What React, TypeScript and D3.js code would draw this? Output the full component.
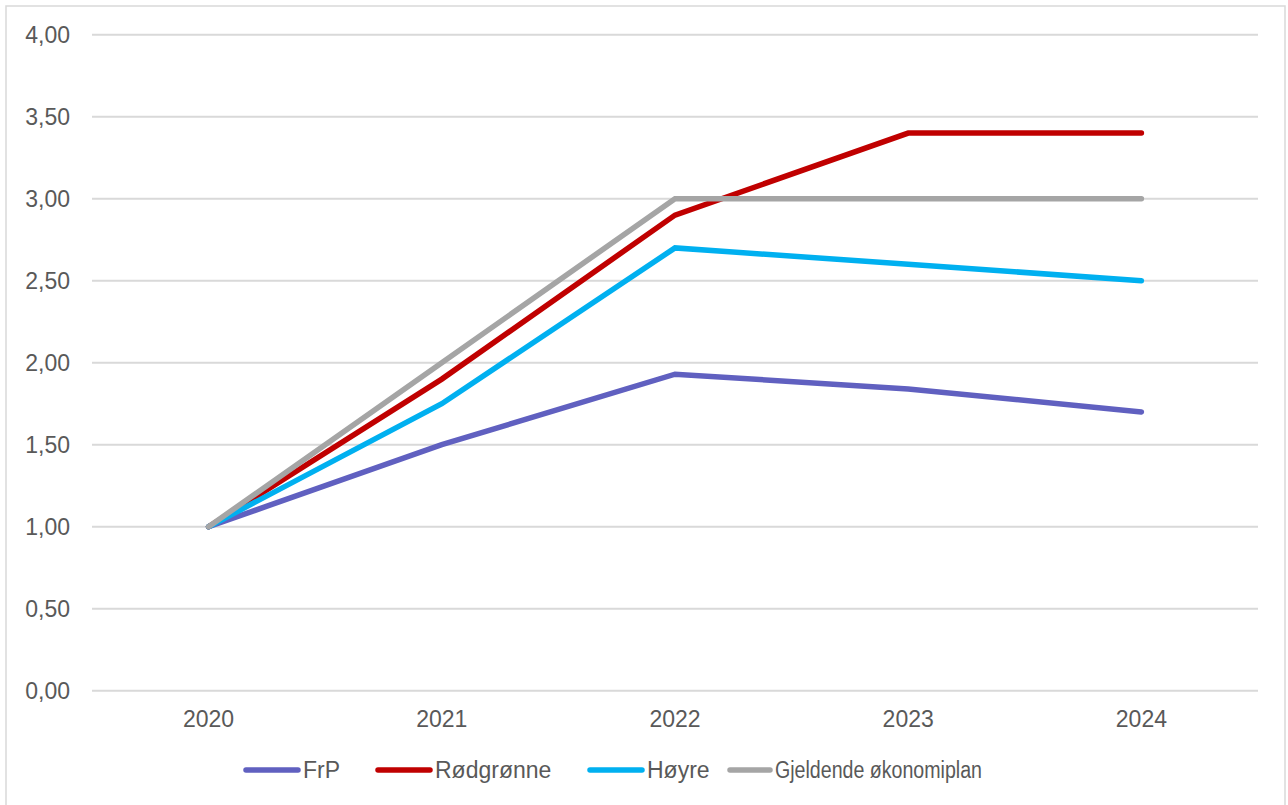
import * as d3 from "d3";

const years = ["2020", "2021", "2022", "2023", "2024"];
const frp = [1.0, 1.5, 1.93, 1.84, 1.7];
const rodgronne = [1.0, 1.9, 2.9, 3.4, 3.4];
const hoyre = [1.0, 1.75, 2.7, 2.6, 2.5];
const gjeldende = [1.0, 2.0, 3.0, 3.0, 3.0];
const yTicks = [0, 0.5, 1, 1.5, 2, 2.5, 3, 3.5, 4];

const series = [
  { name: "FrP", values: frp, color: "#6060C0" },
  { name: "Rødgrønne", values: rodgronne, color: "#C00000" },
  { name: "Høyre", values: hoyre, color: "#00B0F0" },
  { name: "Gjeldende økonomiplan", values: gjeldende, color: "#A5A5A5" },
];

const WIDTH = 1288;
const HEIGHT = 805;
const FONT = "'Liberation Sans', Arial, sans-serif";
const TEXT = "#595959";

export default function App() {
  const x = d3.scaleBand().domain(years).range([92, 1258]);
  const y = d3.scaleLinear().domain([0, 4]).range([690.7, 34.7]);
  const fmt = (v: number) => v.toFixed(2).replace(".", ",");

  const line = d3
    .line<number>()
    .x((_, i) => (x(years[i]) ?? 0) + x.bandwidth() / 2)
    .y((d) => y(d));

  // legend: line start, line length, and (for the squeezed last item) text width
  const legendX = [244, 376, 588, 728];
  const legendLen = [56, 56, 56, 44];
  const legendTextLen: (number | undefined)[] = [undefined, undefined, undefined, 207];

  return (
    <svg
      width={WIDTH}
      height={HEIGHT}
      style={{ position: "absolute", left: 0, top: 0, background: "#fff" }}
      fontFamily={FONT}
    >
      <rect x={6} y={6} width={1279} height={HEIGHT} fill="#fff" stroke="#D9D9D9" strokeWidth={1.5} />

      {yTicks.map((t) => (
        <g key={t}>
          <line x1={92} x2={1258} y1={y(t)} y2={y(t)} stroke="#D9D9D9" strokeWidth={2} />
          <text x={70} y={y(t)} dy="0.35em" textAnchor="end" fontSize={23} fill={TEXT}>
            {fmt(t)}
          </text>
        </g>
      ))}

      {years.map((yr) => (
        <text
          key={yr}
          x={(x(yr) ?? 0) + x.bandwidth() / 2}
          y={727}
          textAnchor="middle"
          fontSize={23}
          fill={TEXT}
        >
          {yr}
        </text>
      ))}

      {series.map((s) => (
        <path
          key={s.name}
          d={line(s.values) ?? ""}
          fill="none"
          stroke={s.color}
          strokeWidth={5.5}
          strokeLinejoin="miter"
          strokeLinecap="round"
        />
      ))}

      {series.map((s, i) => (
        <g key={s.name} transform={`translate(${legendX[i]},770)`}>
          <line
            x1={2}
            x2={legendLen[i] - 2}
            y1={0}
            y2={0}
            stroke={s.color}
            strokeWidth={5.5}
            strokeLinecap="round"
          />
          <text
            x={legendLen[i] + 3}
            y={0}
            dy="0.35em"
            fontSize={23}
            fill={TEXT}
            textLength={legendTextLen[i]}
            lengthAdjust={legendTextLen[i] ? "spacingAndGlyphs" : undefined}
          >
            {s.name}
          </text>
        </g>
      ))}
    </svg>
  );
}
